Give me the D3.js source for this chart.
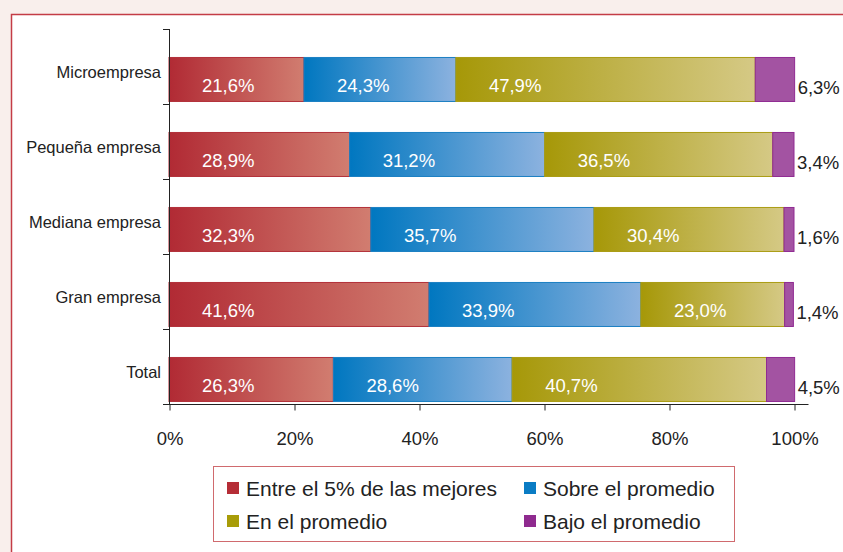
<!DOCTYPE html>
<html>
<head>
<meta charset="utf-8">
<script src="https://cdn.jsdelivr.net/npm/d3@7"></script>
<style>
  body { margin: 0; background: #f9efec; }
  svg { display: block; font-family: "Liberation Sans", Arial, sans-serif; }
</style>
</head>
<body>
<div id="chart"></div>
<script>
const categories = ["Microempresa", "Pequeña empresa", "Mediana empresa", "Gran empresa", "Total"];
const seriesNames = ["Entre el 5% de las mejores", "Sobre el promedio", "En el promedio", "Bajo el promedio"];
const mejores = [21.6, 28.9, 32.3, 41.6, 26.3];
const sobre = [24.3, 31.2, 35.7, 33.9, 28.6];
const enPromedio = [47.9, 36.5, 30.4, 23.0, 40.7];
const bajo = [6.3, 3.4, 1.6, 1.4, 4.5];
const xTicks = [0, 20, 40, 60, 80, 100];

const W = 843, H = 552;
const fmt = v => v.toFixed(1).replace(".", ",") + "%";

// colours per series: dark, light, legend
const colors = [
  {dark: "#b12a34", light: "#d17d70", legend: "#b52d36", stroke: "#b3313a"},
  {dark: "#0077c0", light: "#8cb2df", legend: "#0a7cc4", stroke: "#1b7fc2"},
  {dark: "#a69808", light: "#d5c985", legend: "#a89c08", stroke: "#ab9c14"},
  {dark: "#a353a2", light: "#a353a2", legend: "#8f2a8f", stroke: "#902a92"}
];

const values = [mejores, sobre, enPromedio, bajo];
const rows = categories.map((c, i) => {
  let acc = 0;
  return {cat: c, segs: values.map((arr, s) => {
    const seg = {s: s, x0: acc, x1: acc + arr[i], v: arr[i]};
    acc += arr[i];
    return seg;
  })};
});

const svg = d3.select("#chart").append("svg")
  .attr("width", W).attr("height", H);

const defs = svg.append("defs");
colors.forEach((c, i) => {
  const g = defs.append("linearGradient").attr("id", "grad" + i)
    .attr("x1", "0%").attr("x2", "100%").attr("y1", "0%").attr("y2", "0%");
  g.append("stop").attr("offset", "0%").attr("stop-color", c.dark);
  g.append("stop").attr("offset", "100%").attr("stop-color", c.light);
});

// frame
svg.append("rect")
  .attr("x", 11.5).attr("y", 14.5).attr("width", W).attr("height", H)
  .attr("fill", "#fff").attr("stroke", "#c43c46").attr("stroke-width", 1.5);

const xScale = d3.scaleLinear().domain([0, 100]).range([169, 794]);
const yScale = d3.scaleBand().domain(categories).range([29, 404]);
const bw = yScale.bandwidth();

// bars
const rowG = svg.selectAll("g.row")
  .data(rows)
  .enter().append("g")
  .attr("class", "row")
  .attr("transform", d => `translate(0, ${yScale(d.cat) + bw * 0.373})`);

rowG.selectAll("rect")
  .data(d => d.segs)
  .enter().append("rect")
  .attr("x", d => xScale(d.x0))
  .attr("y", 0.5)
  .attr("width", d => xScale(d.x1) - xScale(d.x0))
  .attr("height", bw * 0.6 - 1)
  .attr("fill", d => "url(#grad" + d.s + ")")
  .attr("stroke", d => colors[d.s].stroke)
  .attr("stroke-width", 1);

// inside labels
rowG.selectAll("text.in")
  .data(d => d.segs.slice(0, 3))
  .enter().append("text")
  .attr("class", "in")
  .attr("x", d => xScale(d.x0) + 33)
  .attr("y", 35.5)
  .attr("fill", "#fff")
  .attr("font-size", 18.5)
  .text(d => fmt(d.v));

// outside labels
rowG.append("text")
  .attr("x", d => xScale(d.segs[3].x1) + 3)
  .attr("y", 37.5)
  .attr("fill", "#222")
  .attr("font-size", 18.5)
  .text(d => fmt(d.segs[3].v));

// y axis
const yAxis = svg.append("g");
yAxis.append("line")
  .attr("x1", 169.5).attr("x2", 169.5)
  .attr("y1", 29).attr("y2", 404)
  .attr("stroke", "#222");
yAxis.selectAll("line.tick")
  .data(categories.concat(["end"]))
  .enter().append("line")
  .attr("x1", 163).attr("x2", 169)
  .attr("y1", (d, i) => (i < categories.length ? yScale(d) : yScale.range()[1]) + 0.5)
  .attr("y2", (d, i) => (i < categories.length ? yScale(d) : yScale.range()[1]) + 0.5)
  .attr("stroke", "#222");
yAxis.selectAll("text")
  .data(categories)
  .enter().append("text")
  .attr("x", 161)
  .attr("y", d => yScale(d) + bw * 0.573)
  .attr("dy", "0.35em")
  .attr("text-anchor", "end")
  .attr("font-size", 16.5)
  .attr("fill", "#222")
  .text(d => d);

// x axis
const xAxis = d3.axisBottom(xScale)
  .tickValues(xTicks)
  .tickSize(6)
  .tickPadding(21)
  .tickFormat(d => d + "%");
const xg = svg.append("g")
  .attr("transform", "translate(0.5, 404.5)")
  .call(xAxis);
xg.select(".domain").remove();
xg.append("line").attr("x1", 163).attr("x2", 808).attr("stroke", "#222");
xg.selectAll(".tick line").attr("stroke", "#222");
xg.selectAll(".tick text")
  .attr("font-size", 18.5)
  .attr("font-family", "Liberation Sans, Arial, sans-serif")
  .attr("fill", "#222");

// legend
const legend = svg.append("g");
legend.append("rect")
  .attr("x", 213.5).attr("y", 466.5).attr("width", 521).attr("height", 75)
  .attr("fill", "#fff").attr("stroke", "#d06a6e").attr("stroke-width", 1);
const legItems = legend.selectAll("g.item")
  .data(seriesNames)
  .enter().append("g")
  .attr("transform", (d, i) => `translate(${i % 2 ? 524 : 227}, ${i < 2 ? 482 : 515})`);
legItems.append("rect")
  .attr("width", 12).attr("height", 12)
  .attr("fill", (d, i) => colors[i].legend);
legItems.append("text")
  .attr("x", 19).attr("y", 6)
  .attr("dy", "0.36em")
  .attr("font-size", 21)
  .attr("fill", "#222")
  .text(d => d);
</script>
</body>
</html>
